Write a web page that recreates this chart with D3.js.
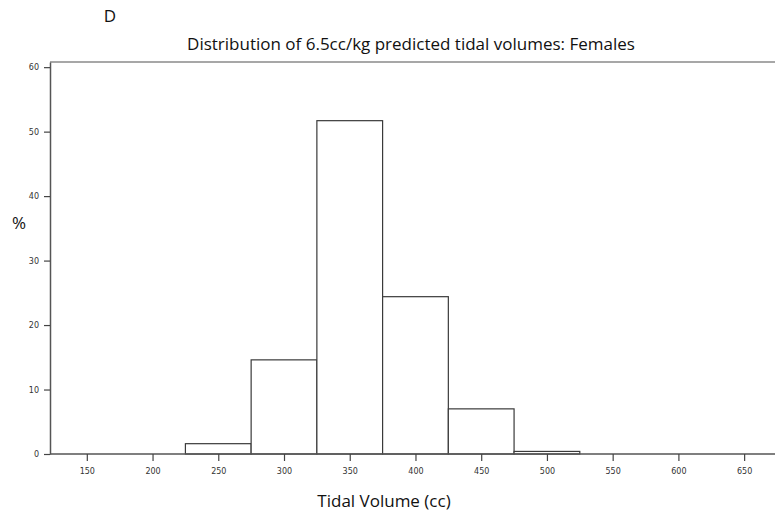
<!DOCTYPE html>
<html>
<head>
<meta charset="utf-8">
<script src="https://cdn.jsdelivr.net/npm/d3@7"></script>
<style>
  body { margin: 0; background: #fff; }
  svg { display: block; }
</style>
</head>
<body>
<div id="chart"></div>
<script>
// histogram bins (cc) and percentages
const binStarts = [225, 275, 325, 375, 425, 475];
const binWidth = 50;
const percents = [1.6, 14.6, 51.7, 24.4, 7.0, 0.4];
const xTicks = [150, 200, 250, 300, 350, 400, 450, 500, 550, 600, 650];
const yTicks = [0, 10, 20, 30, 40, 50, 60];

const width = 775, height = 516;
const plotLeft = 50, plotTop = 62, plotBottom = 454, plotRight = 777;

const svg = d3.select("#chart")
    .append("svg")
    .attr("width", width)
    .attr("height", height);

const x = d3.scaleLinear()
    .domain([122, 675])
    .range([plotLeft, plotRight]);

const y = d3.scaleLinear()
    .domain([0, 60.8])
    .range([plotBottom, plotTop]);

// frame: top line
svg.append("line")
    .attr("x1", plotLeft).attr("x2", width)
    .attr("y1", plotTop).attr("y2", plotTop)
    .attr("stroke", "#8a8a8a")
    .attr("stroke-width", 1.5);

// bars
svg.selectAll("rect.bar")
    .data(binStarts)
    .enter()
    .append("rect")
    .attr("class", "bar")
    .attr("x", d => x(d))
    .attr("width", d => x(d + binWidth) - x(d))
    .attr("y", (d, i) => y(percents[i]))
    .attr("height", (d, i) => y(0) - y(percents[i]))
    .attr("fill", "#fff")
    .attr("stroke", "#3a3a3a")
    .attr("stroke-width", 1.2);

// x axis
const xAxis = svg.append("g")
    .attr("transform", `translate(0,${plotBottom})`)
    .call(d3.axisBottom(x).tickValues(xTicks).tickSize(7).tickPadding(7).tickSizeOuter(0));

// y axis
const yAxis = svg.append("g")
    .attr("transform", `translate(${plotLeft},0)`)
    .call(d3.axisLeft(y).tickValues(yTicks).tickSize(6).tickPadding(5).tickSizeOuter(0));

[xAxis, yAxis].forEach(g => {
    g.select(".domain").attr("stroke", "#555").attr("stroke-width", 1.5);
    g.selectAll(".tick line").attr("stroke", "#444").attr("stroke-width", 1.2);
    g.selectAll(".tick text")
        .attr("fill", "#333")
        .style("font-family", "DejaVu Sans")
        .style("font-size", "8px");
});
xAxis.select(".domain").attr("d", `M${plotLeft},0H${width}`);

// panel letter
svg.append("text")
    .attr("x", 110).attr("y", 22)
    .attr("text-anchor", "middle")
    .style("font-family", "Open Sans")
    .style("font-size", "17px")
    .attr("fill", "#111")
    .text("D");

// title
svg.append("text")
    .attr("x", 411).attr("y", 50)
    .attr("text-anchor", "middle")
    .style("font-family", "Open Sans")
    .style("font-size", "17px")
    .attr("fill", "#111")
    .text("Distribution of 6.5cc/kg predicted tidal volumes: Females");

// y label
svg.append("text")
    .attr("x", 19).attr("y", 229)
    .attr("text-anchor", "middle")
    .style("font-family", "Open Sans")
    .style("font-size", "17px")
    .attr("fill", "#111")
    .text("%");

// x label
svg.append("text")
    .attr("x", 384).attr("y", 507)
    .attr("text-anchor", "middle")
    .style("font-family", "Open Sans")
    .style("font-size", "17px")
    .attr("fill", "#111")
    .text("Tidal Volume (cc)");
</script>
</body>
</html>
